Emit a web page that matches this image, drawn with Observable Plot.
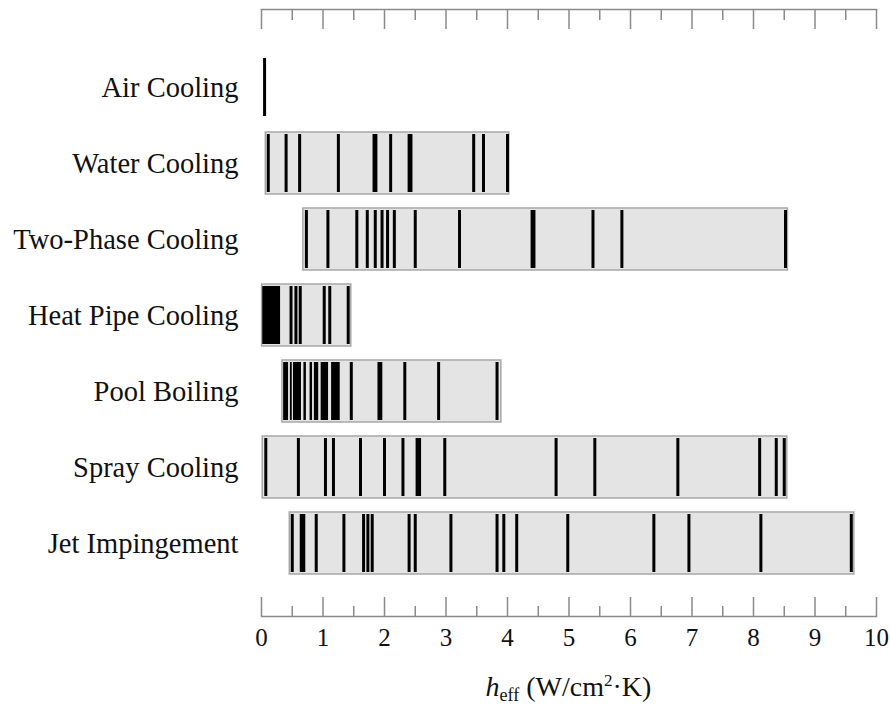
<!DOCTYPE html>
<html>
<head>
<meta charset="utf-8">
<script src="https://cdn.jsdelivr.net/npm/d3@7"></script>
<script src="https://cdn.jsdelivr.net/npm/@observablehq/plot@0.6"></script>
<style>
  body { margin: 0; background: #fff; }
  #chart svg { display: block; }
  #xtitle { margin-left: 261px; width: 615px; margin-top: 6px; text-align: center; font-family: "Liberation Serif", "Times New Roman", serif; font-size: 28px; color: #111; line-height: 30px; }
  #xtitle sub { font-size: 18px; vertical-align: -5px; line-height: 0; }
  #xtitle sup { font-size: 17px; vertical-align: 10px; line-height: 0; }
</style>
</head>
<body>
<div id="chart"></div>
<div id="xtitle"><i>h</i><sub>eff</sub> (W/cm<sup>2</sup>·K)</div>
<script>
const categories = ["Air Cooling", "Water Cooling", "Two-Phase Cooling", "Heat Pipe Cooling", "Pool Boiling", "Spray Cooling", "Jet Impingement"];
const rangeStart = [null, 0.07, 0.68, 0.01, 0.34, 0.02, 0.46];
const rangeEnd   = [null, 4.03, 8.56, 1.46, 3.90, 8.55, 9.64];

const airLines = [0.05];
const waterLines = [0.11, 0.40, 0.62, 1.25, 1.83, 1.86, 2.10, 2.40, 2.43, 3.45, 3.61, 4.00];
const twoPhaseLines = [0.73, 1.08, 1.55, 1.72, 1.85, 1.96, 2.05, 2.16, 2.50, 3.22, 4.40, 4.43, 5.39, 5.86, 8.52];
const heatPipeLines = [0.48, 0.56, 0.63, 1.02, 1.11, 1.41];
const poolLines = [1.46, 1.91, 1.94, 2.33, 2.88, 3.83];
const sprayLines = [0.07, 0.60, 1.04, 1.17, 1.61, 2.00, 2.30, 2.53, 2.57, 2.98, 4.79, 5.42, 6.77, 8.10, 8.37, 8.50];
const jetLines = [0.50, 0.89, 1.34, 1.66, 1.73, 1.80, 2.40, 2.50, 3.08, 3.83, 3.94, 4.15, 4.98, 6.38, 6.95, 8.12, 9.59];

// dense clusters of data rendered as solid black blocks [from, to]
const heatPipeBlocks = [[0.02, 0.31]];
const poolBlocks = [[0.36, 0.44], [0.47, 0.50], [0.52, 0.65], [0.69, 0.73], [0.79, 0.83], [0.86, 0.93], [0.97, 1.09], [1.14, 1.28]];
const jetBlocks = [[0.63, 0.72]];

const majorTicks = [0, 1, 2, 3, 4, 5, 6, 7, 8, 9, 10];
const minorTicks = [0.5, 1.5, 2.5, 3.5, 4.5, 5.5, 6.5, 7.5, 8.5, 9.5];

const lineSets = [airLines, waterLines, twoPhaseLines, heatPipeLines, poolLines, sprayLines, jetLines];
const blockSets = [[], [], [], heatPipeBlocks, poolBlocks, [], jetBlocks];

const ranges = categories.map((c, i) => ({cat: c, x1: rangeStart[i], x2: rangeEnd[i]})).filter(d => d.x1 != null);
const lines = categories.flatMap((c, i) => lineSets[i].map(v => ({cat: c, x: v})));
const blocks = categories.flatMap((c, i) => blockSets[i].map(([a, b]) => ({cat: c, x1: a, x2: b})));

const W = 890, H = 666, mTop = 9, mBottom = 50;
const frameH = H - mTop - mBottom;
const axisGray = "#8a8a8a";

const chart = Plot.plot({
  width: W,
  height: H,
  marginLeft: 261,
  marginRight: 14,
  marginTop: mTop,
  marginBottom: mBottom,
  style: {fontFamily: "'Liberation Serif', 'Times New Roman', serif", background: "#fff", color: "#111"},
  x: {domain: [0, 10]},
  y: {domain: categories, range: [46.75, 582.25], paddingInner: 0.19, paddingOuter: 0.095},
  marks: [
    Plot.barX(ranges, {x1: "x1", x2: "x2", y: "cat", fill: "#e4e4e4", stroke: "#a8a8a8", strokeWidth: 1.5}),
    Plot.barX(blocks, {x1: "x1", x2: "x2", y: "cat", fill: "#000", insetTop: 2, insetBottom: 2}),
    Plot.tickX(lines, {x: "x", y: "cat", stroke: "#000", strokeWidth: 3, insetTop: 2, insetBottom: 2}),
    // axis lines
    Plot.frame({anchor: "top", stroke: axisGray, strokeWidth: 1.5}),
    Plot.frame({anchor: "bottom", stroke: axisGray, strokeWidth: 1.5}),
    // top inward ticks
    Plot.tickX(majorTicks, {x: d => d, stroke: axisGray, strokeWidth: 1.5, insetBottom: frameH - 20}),
    Plot.tickX(minorTicks, {x: d => d, stroke: axisGray, strokeWidth: 1.5, insetBottom: frameH - 11}),
    // bottom inward ticks
    Plot.tickX(majorTicks, {x: d => d, stroke: axisGray, strokeWidth: 1.5, insetTop: frameH - 19}),
    Plot.tickX(minorTicks, {x: d => d, stroke: axisGray, strokeWidth: 1.5, insetTop: frameH - 10}),
    Plot.axisX({anchor: "bottom", ticks: majorTicks, tickSize: 0, tickPadding: 12, fontSize: 25, label: null, tickFormat: d => String(d)}),
    Plot.axisY({tickSize: 0, tickPadding: 23, fontSize: 28.5, label: null})
  ]
});
document.getElementById("chart").appendChild(chart);
</script>
</body>
</html>
